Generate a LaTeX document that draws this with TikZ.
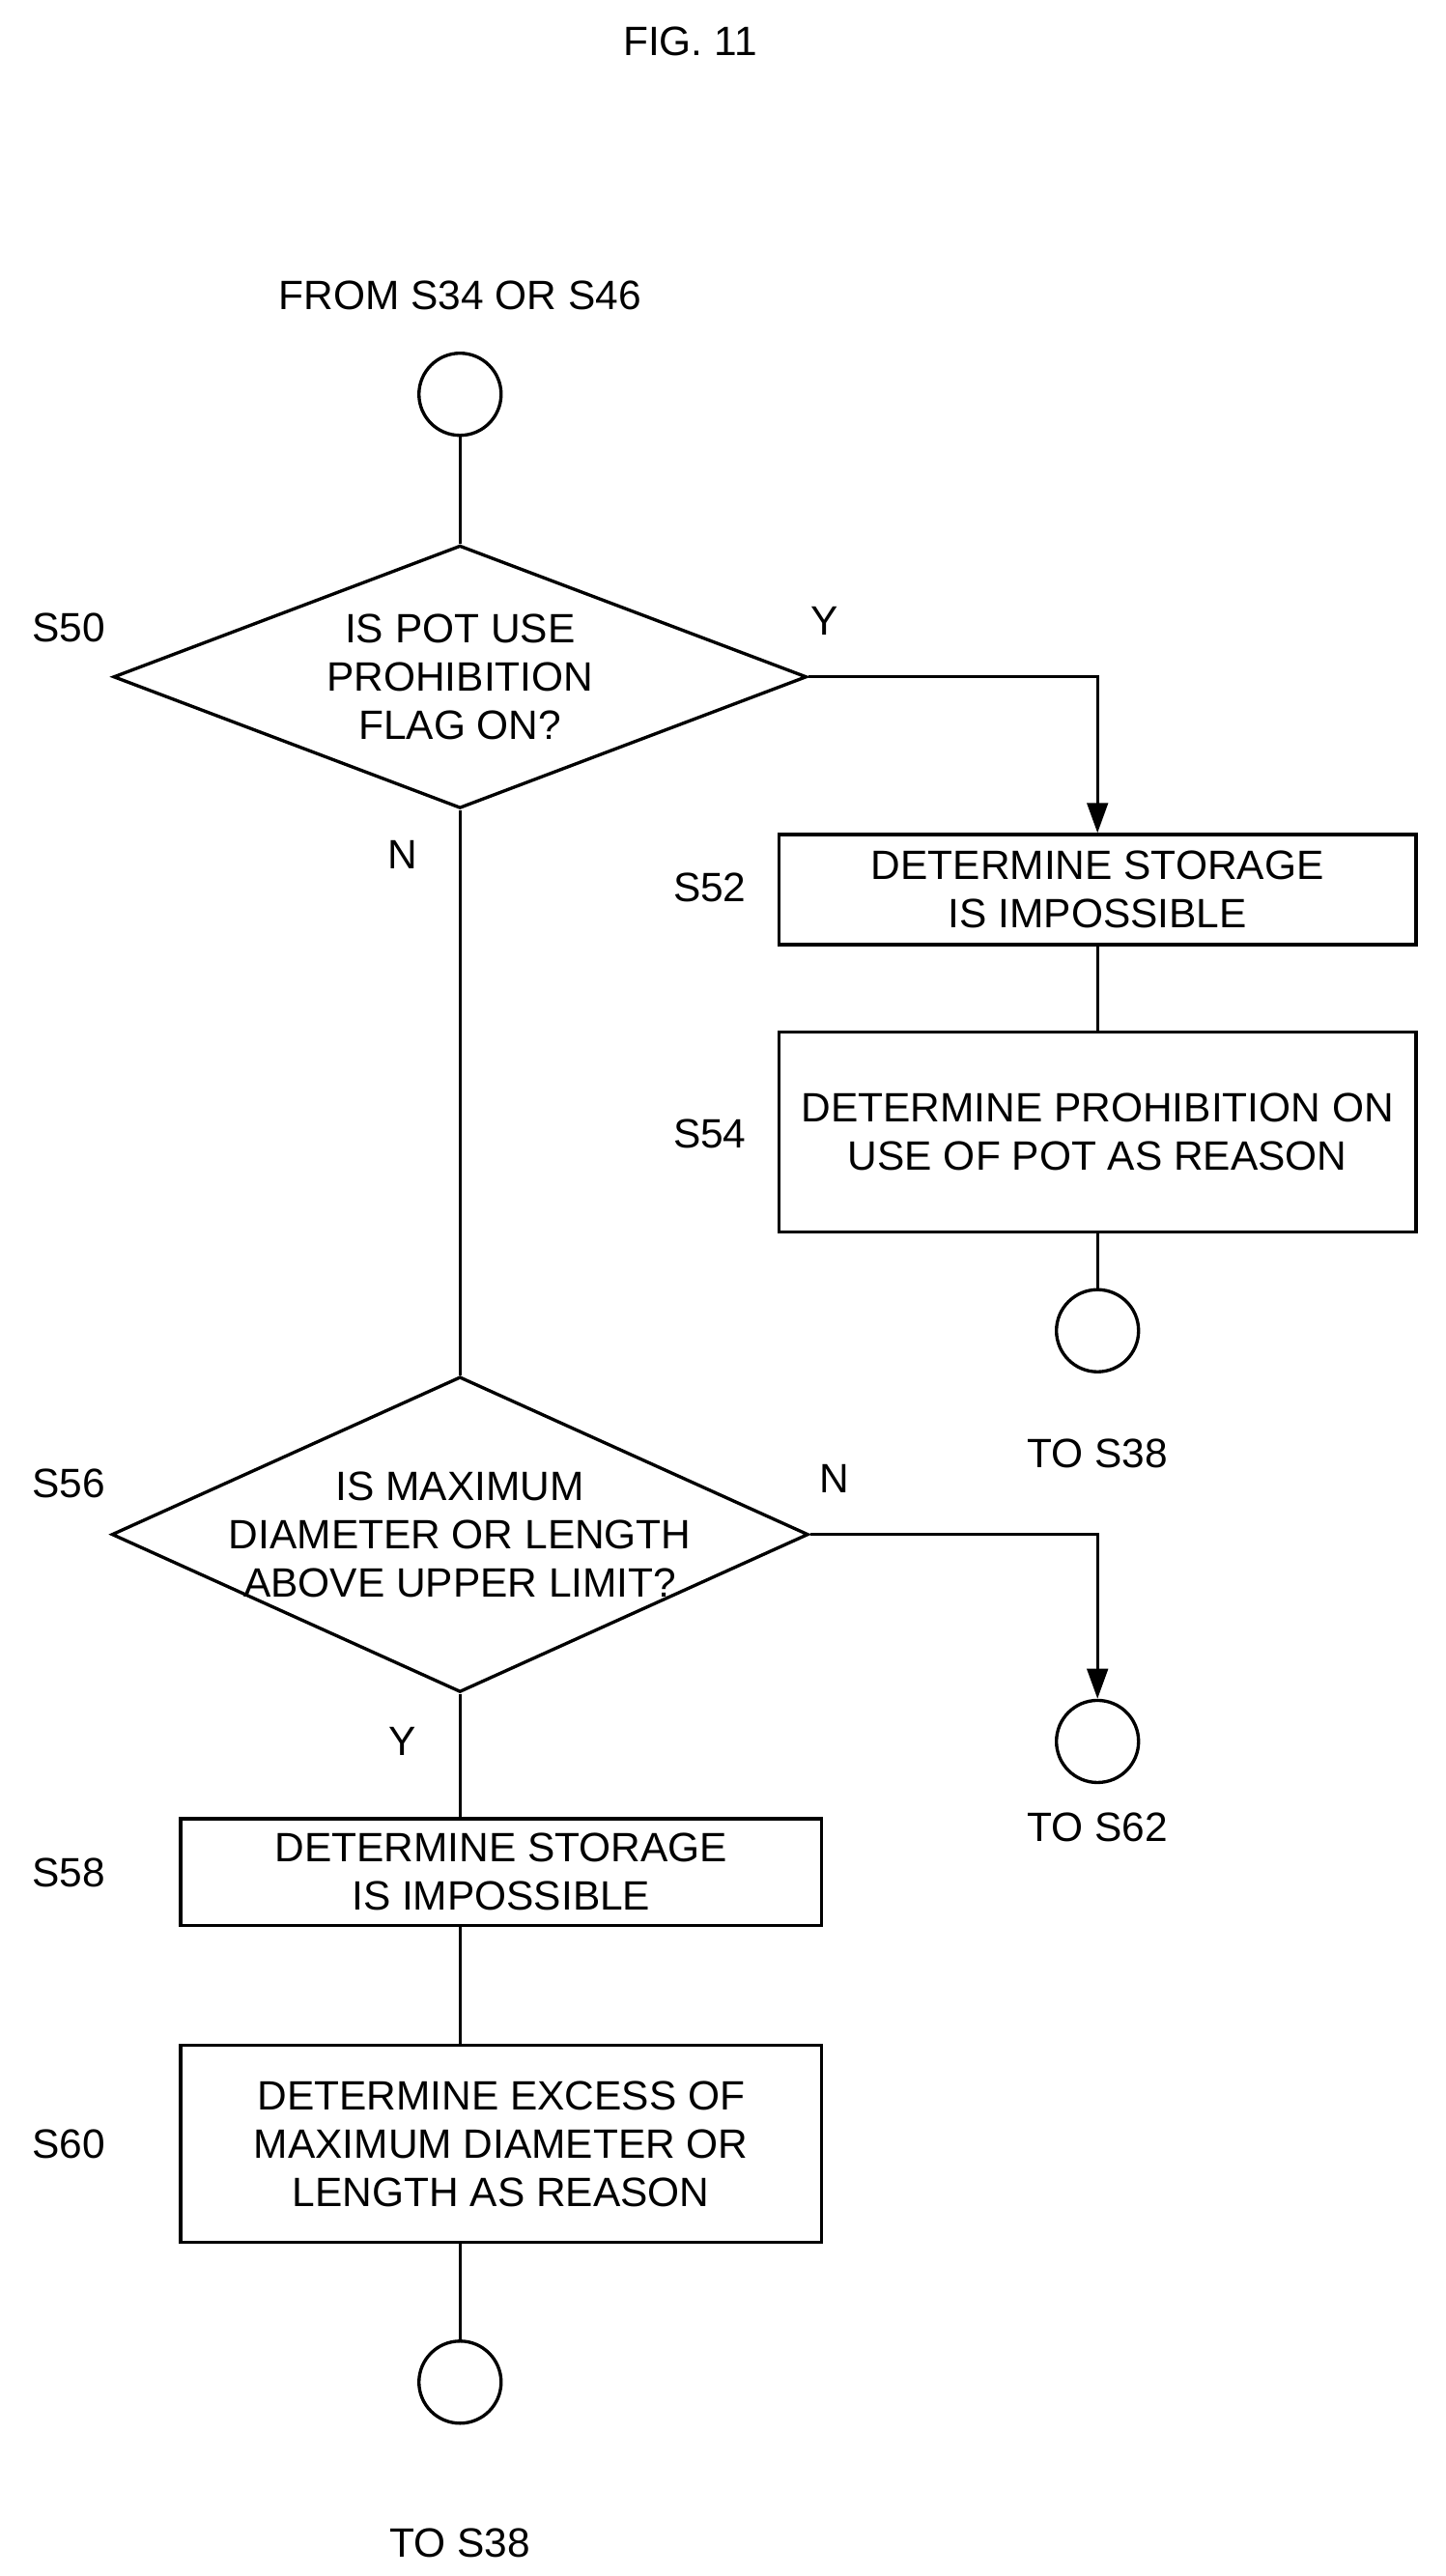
\documentclass[tikz,border=0pt]{standalone}
\usepackage{fontspec}
\setmainfont{Liberation Sans}
\usetikzlibrary{shapes.geometric,arrows.meta}
\tikzset{
  every node/.style={font=\fontsize{35.5}{42}\selectfont},
  line/.style={line width=2.8pt},
  arr/.style={line, -{Triangle[length=26pt,width=18pt]}},
  term/.style={draw, line width=2.8pt, circle, minimum size=2.5cm, inner sep=0pt},
  box/.style={draw, line width=2.8pt, align=center, inner sep=0pt},
  dec/.style={draw, line width=2.8pt, diamond, inner sep=0pt, aspect=1},
}
\begin{document}
\begin{tikzpicture}[x=0.05cm,y=-0.05cm]
        \useasboundingbox (0,0) rectangle (880,1568);

        \node (fig) at (420,25) {FIG. 11};
        \node (from) at (280,180) {FROM S34 OR S46};
        \node[term] (c1) at (280,240) {};

        \node[dec, minimum width=21.1cm, minimum height=8cm] (s50) at (280,412) {};
        \node[align=center] (t50) at (s50) {IS POT USE\\PROHIBITION\\FLAG ON?};
        \node (l50) at (42,382) {S50};
        \node (y50) at (502,378) {Y};
        \node (n50) at (245,520) {N};

        \node[box, minimum width=19.4cm, minimum height=3.35cm] (s52) at (668,541.5) {DETERMINE STORAGE\\IS IMPOSSIBLE};
        \node (l52) at (432,540) {S52};
        \node[box, minimum width=19.4cm, minimum height=6.1cm] (s54) at (668,689) {DETERMINE PROHIBITION ON\\USE OF POT AS REASON};
        \node (l54) at (432,690) {S54};
        \node[term] (c2) at (668,810) {};
        \node (to1) at (668,885) {TO S38};

        \node[dec, minimum width=21.2cm, minimum height=9.6cm] (s56) at (280,934) {};
        \node[align=center] (t56) at (s56) {IS MAXIMUM\\DIAMETER OR LENGTH\\ABOVE UPPER LIMIT?};
        \node (l56) at (42,903) {S56};
        \node (n56) at (508,900) {N};
        \node (y56) at (245,1060) {Y};
        \node[term] (c3) at (668,1060) {};
        \node (to2) at (668,1112) {TO S62};

        \node[box, minimum width=19.5cm, minimum height=3.25cm] (s58) at (305,1139.5) {DETERMINE STORAGE\\IS IMPOSSIBLE};
        \node (l58) at (42,1140) {S58};
        \node[box, minimum width=19.5cm, minimum height=6cm] (s60) at (305,1305) {DETERMINE EXCESS OF\\MAXIMUM DIAMETER OR\\LENGTH AS REASON};
        \node (l60) at (42,1305) {S60};
        \node[term] (c4) at (280,1450) {};
        \node (to3) at (280,1548) {TO S38};

        \draw[line] (c1) -- (s50.north);
        \draw[arr] (s50.east) -| (s52.north);
        \draw[line] (s52) -- (s54);
        \draw[line] (s54) -- (c2);
        \draw[line] (s50.south) -- (s56.north);
        \draw[arr] (s56.east) -| (c3.north);
        \draw[line] (s56.south) -- (s56.south |- s58.north);
        \draw[line] (s56.south |- s58.south) -- (s56.south |- s60.north);
        \draw[line] (s56.south |- s60.south) -- (c4);

\end{tikzpicture}
\end{document}
